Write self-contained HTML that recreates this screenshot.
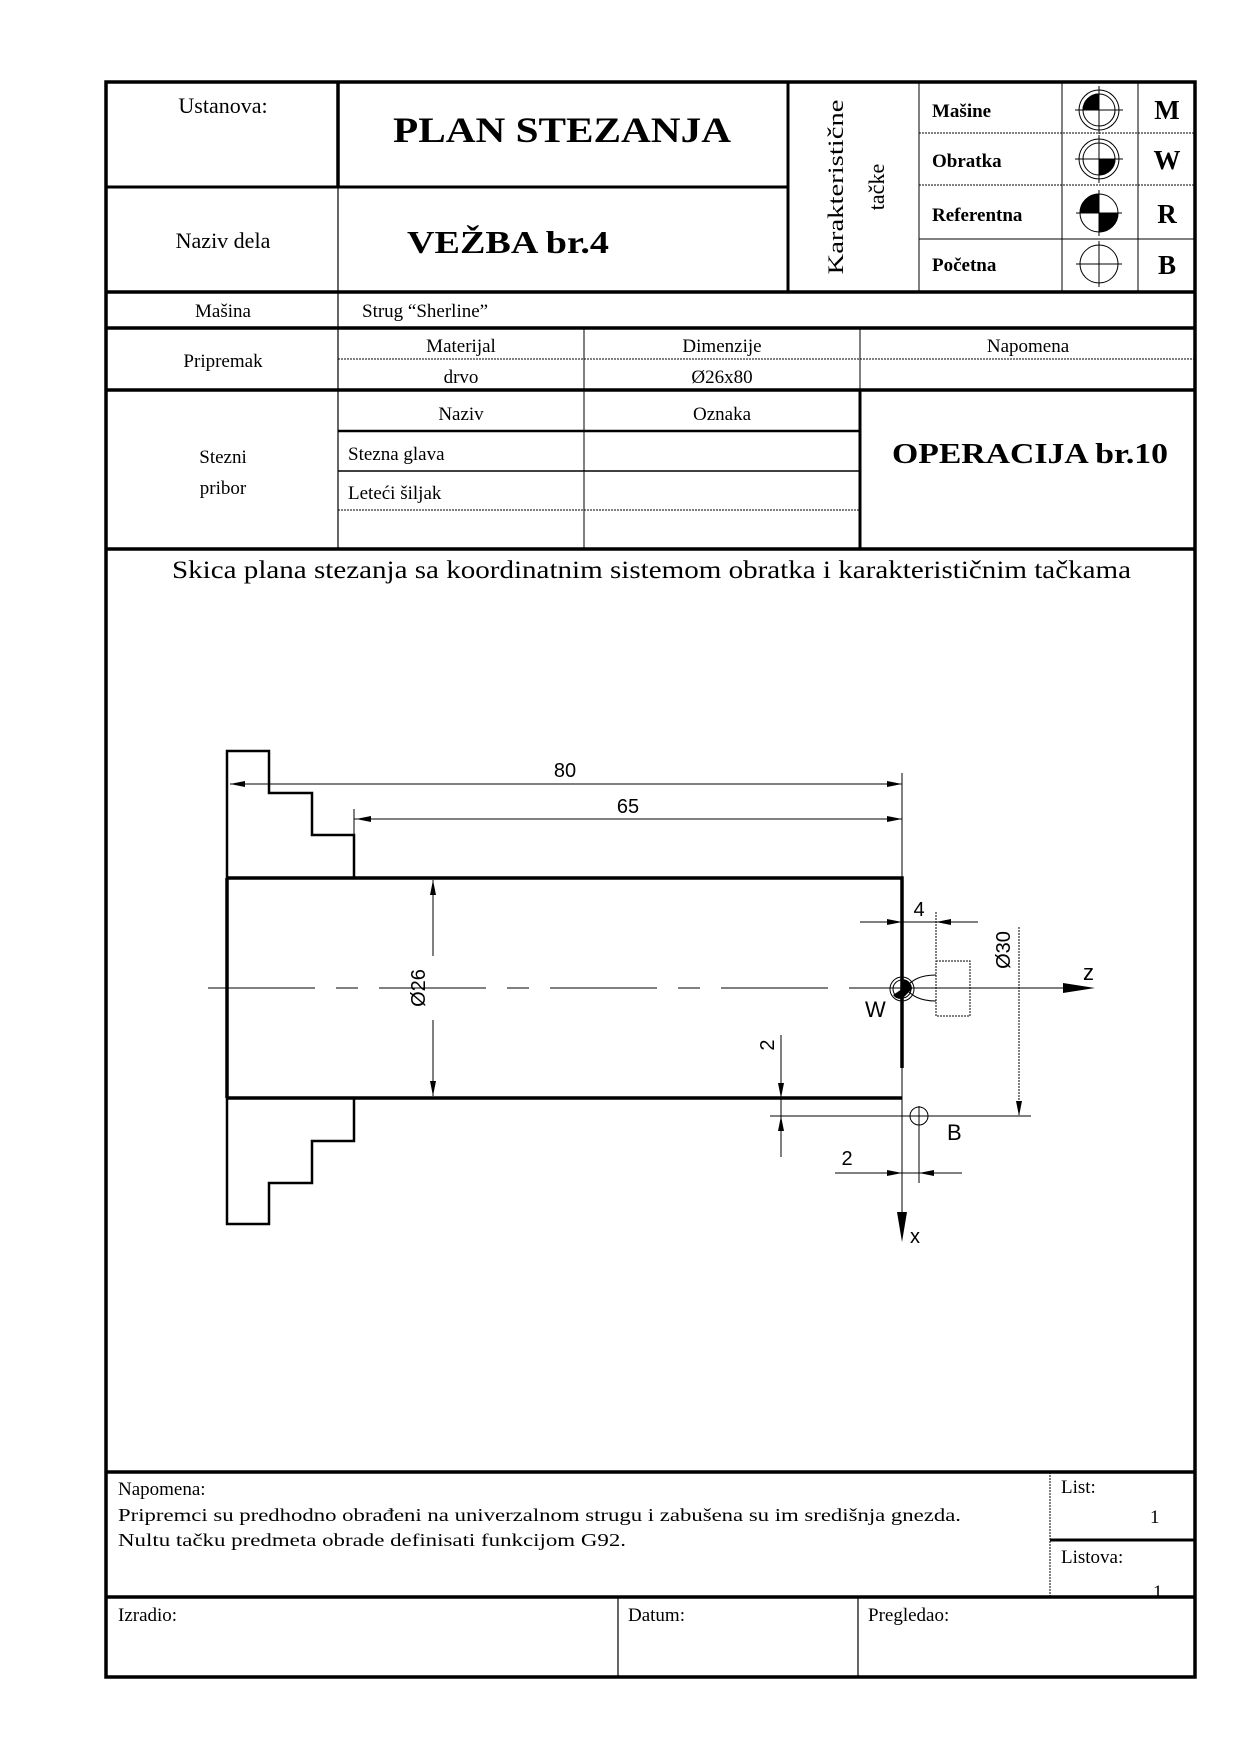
<!DOCTYPE html>
<html><head><meta charset="utf-8"><style>
html,body{margin:0;padding:0;background:#fff;}
svg{display:block;}
.s{font-family:"Liberation Serif",serif;fill:#000;}
.b{font-family:"Liberation Serif",serif;font-weight:bold;fill:#000;}
.a{font-family:"Liberation Sans",sans-serif;fill:#000;}
</style></head><body>
<svg width="1240" height="1754" viewBox="0 0 1240 1754" xmlns="http://www.w3.org/2000/svg">
<g stroke="#000" fill="none">
<!-- frame -->
<rect x="106" y="82" width="1089" height="1595" stroke-width="3.5"/>
<!-- title block thick -->
<line x1="338" y1="82" x2="338" y2="187" stroke-width="3.5"/>
<line x1="338" y1="187" x2="338" y2="549" stroke-width="1.2"/>
<line x1="106" y1="187" x2="338" y2="187" stroke-width="3"/>
<line x1="338" y1="187" x2="788" y2="187" stroke-width="3"/>
<line x1="788" y1="82" x2="788" y2="292" stroke-width="3"/>
<line x1="106" y1="292" x2="1195" y2="292" stroke-width="3.5"/>
<line x1="106" y1="328" x2="1195" y2="328" stroke-width="3.5"/>
<line x1="106" y1="390" x2="1195" y2="390" stroke-width="3.5"/>
<line x1="106" y1="549" x2="1195" y2="549" stroke-width="3.5"/>
<!-- karakteristicne -->
<line x1="919" y1="82" x2="919" y2="292" stroke-width="1"/>
<line x1="1062" y1="82" x2="1062" y2="292" stroke-width="1"/>
<line x1="1138" y1="82" x2="1138" y2="292" stroke-width="1"/>
<line x1="919" y1="133" x2="1195" y2="133" stroke-width="1" stroke-dasharray="2 1"/>
<line x1="919" y1="185" x2="1195" y2="185" stroke-width="1" stroke-dasharray="2 1"/>
<line x1="919" y1="239" x2="1195" y2="239" stroke-width="1"/>
<!-- pripremak -->
<line x1="338" y1="359" x2="1195" y2="359" stroke-width="1" stroke-dasharray="2 1"/>
<line x1="584" y1="328" x2="584" y2="549" stroke-width="1"/>
<line x1="860" y1="328" x2="860" y2="390" stroke-width="1"/>
<line x1="860" y1="390" x2="860" y2="549" stroke-width="3"/>
<!-- stezni -->
<line x1="338" y1="431" x2="860" y2="431" stroke-width="2.5"/>
<line x1="338" y1="471" x2="860" y2="471" stroke-width="1.5"/>
<line x1="338" y1="510" x2="860" y2="510" stroke-width="1" stroke-dasharray="2 1"/>
<!-- bottom -->
<line x1="106" y1="1472" x2="1195" y2="1472" stroke-width="3.5"/>
<line x1="106" y1="1597" x2="1195" y2="1597" stroke-width="3.5"/>
<line x1="1050" y1="1472" x2="1050" y2="1597" stroke-width="1" stroke-dasharray="2 1"/>
<line x1="1050" y1="1540" x2="1195" y2="1540" stroke-width="3"/>
<line x1="618" y1="1597" x2="618" y2="1677" stroke-width="1.2"/>
<line x1="858" y1="1597" x2="858" y2="1677" stroke-width="1.2"/>
</g>
<!-- symbols -->
<g stroke="#000" stroke-width="1" fill="none">
<circle cx="1099" cy="110" r="20"/><circle cx="1099" cy="110" r="16"/>
<path d="M1099 110 L1099 94 A16 16 0 0 0 1083 110 Z" fill="#000"/>
<path d="M1099 110 L1115 110 A16 16 0 0 1 1099 126 Z" fill="#fff"/>
<line x1="1075" y1="110" x2="1123" y2="110"/><line x1="1099" y1="86" x2="1099" y2="134"/>
<circle cx="1099" cy="159" r="20"/><circle cx="1099" cy="159" r="16"/>
<path d="M1099 159 L1115 159 A16 16 0 0 1 1099 175 Z" fill="#000"/>
<line x1="1075" y1="159" x2="1123" y2="159"/><line x1="1099" y1="135" x2="1099" y2="183"/>
<circle cx="1099" cy="213" r="19"/>
<path d="M1099 213 L1099 194 A19 19 0 0 0 1080 213 Z" fill="#000"/>
<path d="M1099 213 L1118 213 A19 19 0 0 1 1099 232 Z" fill="#000"/>
<line x1="1076" y1="213" x2="1122" y2="213"/><line x1="1099" y1="190" x2="1099" y2="236"/>
<circle cx="1099" cy="264" r="19"/>
<line x1="1076" y1="264" x2="1122" y2="264"/><line x1="1099" y1="241" x2="1099" y2="287"/>
</g>
<!-- header texts -->
<text class="s" x="223" y="113" font-size="22" text-anchor="middle">Ustanova:</text>
<text class="s" x="223" y="248" font-size="22" text-anchor="middle">Naziv dela</text>
<text class="s" x="223" y="317" font-size="19" text-anchor="middle">Mašina</text>
<text class="b" x="393" y="142" font-size="36" textLength="338" lengthAdjust="spacingAndGlyphs">PLAN STEZANJA</text>
<text class="b" x="407" y="253" font-size="32" textLength="202" lengthAdjust="spacingAndGlyphs">VEŽBA br.4</text>
<text class="s" font-size="22" transform="translate(843,187) rotate(-90)" text-anchor="middle" textLength="175" lengthAdjust="spacingAndGlyphs">Karakteristične</text>
<text class="s" font-size="22" transform="translate(884,187) rotate(-90)" text-anchor="middle">tačke</text>
<text class="b" x="932" y="117" font-size="19">Mašine</text>
<text class="b" x="932" y="167" font-size="19">Obratka</text>
<text class="b" x="932" y="221" font-size="19">Referentna</text>
<text class="b" x="932" y="271" font-size="19">Početna</text>
<text class="b" x="1167" y="119" font-size="27" text-anchor="middle">M</text>
<text class="b" x="1167" y="169" font-size="27" text-anchor="middle">W</text>
<text class="b" x="1167" y="223" font-size="27" text-anchor="middle">R</text>
<text class="b" x="1167" y="274" font-size="27" text-anchor="middle">B</text>
<text class="s" x="362" y="317" font-size="19">Strug “Sherline”</text>
<text class="s" x="223" y="367" font-size="19" text-anchor="middle">Pripremak</text>
<text class="s" x="461" y="352" font-size="19" text-anchor="middle">Materijal</text>
<text class="s" x="722" y="352" font-size="19" text-anchor="middle">Dimenzije</text>
<text class="s" x="1028" y="352" font-size="19" text-anchor="middle">Napomena</text>
<text class="s" x="461" y="383" font-size="19" text-anchor="middle">drvo</text>
<text class="s" x="722" y="383" font-size="19" text-anchor="middle">Ø26x80</text>
<text class="s" x="461" y="420" font-size="19" text-anchor="middle">Naziv</text>
<text class="s" x="722" y="420" font-size="19" text-anchor="middle">Oznaka</text>
<text class="s" x="348" y="460" font-size="19">Stezna glava</text>
<text class="s" x="348" y="499" font-size="19">Leteći šiljak</text>
<text class="s" x="223" y="463" font-size="19" text-anchor="middle">Stezni</text>
<text class="s" x="223" y="494" font-size="19" text-anchor="middle">pribor</text>
<text class="b" x="892" y="463" font-size="29" textLength="276" lengthAdjust="spacingAndGlyphs">OPERACIJA br.10</text>
<text class="s" x="172" y="578" font-size="25" textLength="959" lengthAdjust="spacingAndGlyphs">Skica plana stezanja sa koordinatnim sistemom obratka i karakterističnim tačkama</text>
<!-- bottom texts -->
<text class="s" x="118" y="1495" font-size="19">Napomena:</text>
<text class="s" x="118" y="1521" font-size="18" textLength="843" lengthAdjust="spacingAndGlyphs">Pripremci su predhodno obrađeni na univerzalnom strugu i zabušena su im središnja gnezda.</text>
<text class="s" x="118" y="1546" font-size="18" textLength="508" lengthAdjust="spacingAndGlyphs">Nultu tačku predmeta obrade definisati funkcijom G92.</text>
<text class="s" x="1061" y="1493" font-size="19">List:</text>
<text class="s" x="1150" y="1523" font-size="19">1</text>
<text class="s" x="1061" y="1563" font-size="19">Listova:</text>
<text class="s" x="1153" y="1598" font-size="19">1</text>
<text class="s" x="118" y="1621" font-size="19">Izradio:</text>
<text class="s" x="628" y="1621" font-size="19">Datum:</text>
<text class="s" x="868" y="1621" font-size="19">Pregledao:</text>
<!-- drawing -->
<g stroke="#000" fill="none">
<path d="M227 878 L227 751 L269 751 L269 793 L312 793 L312 835 L354 835 L354 878" stroke-width="2.5"/>
<path d="M227 1098 L227 1224 L269 1224 L269 1183 L312 1183 L312 1141 L354 1141 L354 1098" stroke-width="2.5"/>
<path d="M227 878 L902 878 L902 1068 M227 1098 L902 1098 M227 878 L227 1098" stroke-width="3.5"/>
<line x1="208" y1="988" x2="1070" y2="988" stroke-width="1" stroke-dasharray="107 21 22 21"/>
<line x1="902" y1="1068" x2="902" y2="1215" stroke-width="1"/>
<line x1="902" y1="773" x2="902" y2="878" stroke-width="1"/>
<line x1="870" y1="988" x2="1070" y2="988" stroke-width="1"/>
<!-- 80 -->
<line x1="230" y1="784" x2="902" y2="784" stroke-width="1"/>
<!-- 65 -->
<line x1="354" y1="809" x2="354" y2="835" stroke-width="1"/>
<line x1="354" y1="819" x2="902" y2="819" stroke-width="1"/>
<!-- Ø26 -->
<line x1="433" y1="880" x2="433" y2="956" stroke-width="1"/>
<line x1="433" y1="1020" x2="433" y2="1096" stroke-width="1"/>
<!-- 4 -->
<line x1="860" y1="922" x2="978" y2="922" stroke-width="1"/>
<line x1="936" y1="912" x2="936" y2="960" stroke-width="1" stroke-dasharray="2 1"/>
<!-- Ø30 -->
<line x1="1019" y1="927" x2="1019" y2="1116" stroke-width="1" stroke-dasharray="2 1"/>
<line x1="770" y1="1116" x2="1031" y2="1116" stroke-width="1"/>
<!-- 2 vertical -->
<line x1="781" y1="1035" x2="781" y2="1157" stroke-width="1"/>
<!-- 2 bottom -->
<line x1="835" y1="1173" x2="962" y2="1173" stroke-width="1"/>
<line x1="919" y1="1106" x2="919" y2="1183" stroke-width="1"/>
<circle cx="919" cy="1116" r="9" stroke-width="1"/>
<!-- W -->
<circle cx="902" cy="989" r="12" stroke-width="1"/>
<circle cx="902" cy="989" r="9" stroke-width="1"/>
<rect x="936" y="961" width="34" height="55" stroke-width="1" stroke-dasharray="2 1"/>
<path d="M936 975 C920 975 912 980 905 988 C912 996 920 1001 936 1001" stroke-width="1"/>
</g>
<path d="M902 989 L902 979 A10 10 0 0 1 912 989 L902 999 A10 10 0 0 1 893 995 Z" fill="#000"/>
<!-- arrowheads -->
<g fill="#000">
<path d="M230 784 L245 781 L245 787 Z"/>
<path d="M902 784 L887 781 L887 787 Z"/>
<path d="M356 819 L371 816 L371 822 Z"/>
<path d="M902 819 L887 816 L887 822 Z"/>
<path d="M433 880 L430 895 L436 895 Z"/>
<path d="M433 1096 L430 1081 L436 1081 Z"/>
<path d="M902 922 L887 919 L887 925 Z"/>
<path d="M936 922 L951 919 L951 925 Z"/>
<path d="M1019 1116 L1016 1101 L1022 1101 Z"/>
<path d="M781 1098 L778 1083 L784 1083 Z"/>
<path d="M781 1116 L778 1131 L784 1131 Z"/>
<path d="M902 1173 L887 1170 L887 1176 Z"/>
<path d="M919 1173 L934 1170 L934 1176 Z"/>
<path d="M1095 988 L1063 983 L1063 993 Z"/>
<path d="M902 1242 L897 1212 L907 1212 Z"/>
</g>
<text class="a" x="565" y="777" font-size="20" text-anchor="middle">80</text>
<text class="a" x="628" y="813" font-size="20" text-anchor="middle">65</text>
<text class="a" font-size="20" text-anchor="middle" transform="translate(425,988) rotate(-90)">Ø26</text>
<text class="a" x="919" y="916" font-size="20" text-anchor="middle">4</text>
<text class="a" font-size="20" text-anchor="middle" transform="translate(1010,950) rotate(-90)">Ø30</text>
<text class="a" font-size="20" text-anchor="middle" transform="translate(774,1045) rotate(-90)">2</text>
<text class="a" x="847" y="1165" font-size="20" text-anchor="middle">2</text>
<text class="a" x="947" y="1140" font-size="22">B</text>
<text class="a" x="865" y="1017" font-size="22">W</text>
<text class="a" x="1083" y="980" font-size="22">z</text>
<text class="a" x="910" y="1243" font-size="20">x</text>
</svg>
</body></html>
